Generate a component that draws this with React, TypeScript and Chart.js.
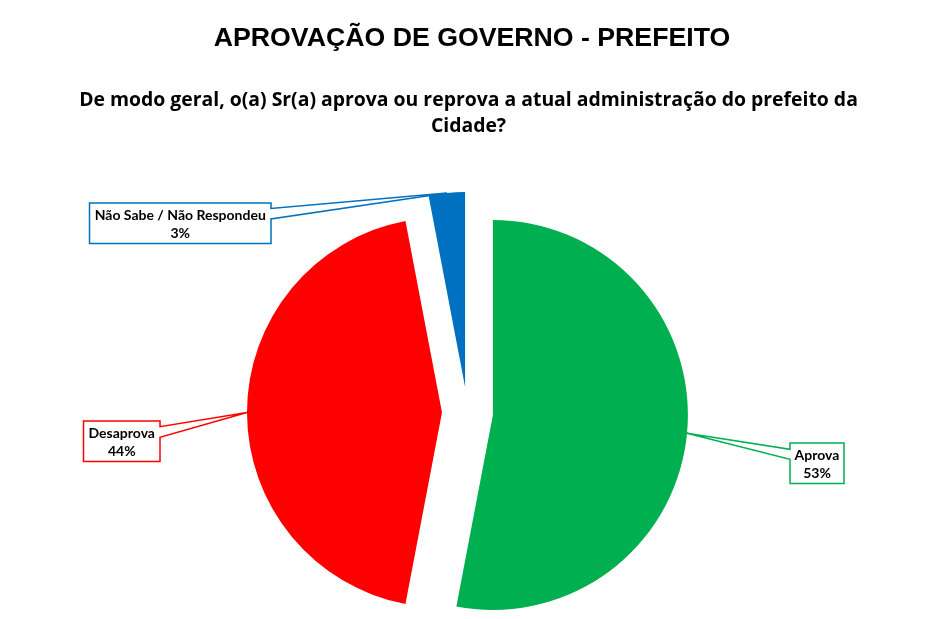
import { useEffect, useRef } from 'react';
import { Chart, registerables } from 'chart.js';

Chart.register(...registerables);

const categories = ['Aprova', 'Desaprova', 'Não Sabe / Não Respondeu'];
const values = [53, 44, 3];
const sliceColors = ['#00B050', '#FF0000', '#0070C0'];

const RADIUS = 195;
const EXPLODE = 25.5; // how far each slice is pulled out, in px

// callout boxes, same order as categories; y1/y2 = where the wedge leaves the box
const callouts = [
  { x: 790, y: 443, w: 54, h: 40.5, side: 'left', y1: 449.3, y2: 459.3 },
  { x: 83.5, y: 421, w: 76.5, h: 40.5, side: 'right', y1: 426.7, y2: 437.3 },
  { x: 89.5, y: 203, w: 181.5, h: 40.5, side: 'right', y1: 208.5, y2: 219 },
];

// chart.js' own arc offset also grows the radius, so pull the slices out here instead
const explodePlugin = {
  id: 'explode',
  beforeDatasetDraw(chart: Chart, args: any) {
    const ctx = chart.ctx;
    args.meta.data.forEach((arc: any) => {
      const mid = (arc.startAngle + arc.endAngle) / 2;
      ctx.save();
      ctx.translate(Math.cos(mid) * EXPLODE, Math.sin(mid) * EXPLODE);
      arc.draw(ctx);
      ctx.restore();
    });
    return false;
  },
};

const calloutPlugin = {
  id: 'callouts',
  afterDatasetsDraw(chart: Chart) {
    const ctx = chart.ctx;
    const arcs = chart.getDatasetMeta(0).data as any[];
    ctx.save();
    arcs.forEach((arc, i) => {
      const box = callouts[i];
      const mid = (arc.startAngle + arc.endAngle) / 2;
      const r = arc.outerRadius + EXPLODE;
      const tx = arc.x + Math.cos(mid) * r;
      const ty = arc.y + Math.sin(mid) * r;

      ctx.beginPath();
      if (box.side === 'right') {
        ctx.moveTo(box.x, box.y);
        ctx.lineTo(box.x + box.w, box.y);
        ctx.lineTo(box.x + box.w, box.y1);
        ctx.lineTo(tx, ty);
        ctx.lineTo(box.x + box.w, box.y2);
        ctx.lineTo(box.x + box.w, box.y + box.h);
        ctx.lineTo(box.x, box.y + box.h);
      } else {
        ctx.moveTo(box.x, box.y);
        ctx.lineTo(box.x + box.w, box.y);
        ctx.lineTo(box.x + box.w, box.y + box.h);
        ctx.lineTo(box.x, box.y + box.h);
        ctx.lineTo(box.x, box.y2);
        ctx.lineTo(tx, ty);
        ctx.lineTo(box.x, box.y1);
      }
      ctx.closePath();
      ctx.fillStyle = '#ffffff';
      ctx.fill();
      ctx.lineWidth = 1.5;
      ctx.lineJoin = 'miter';
      ctx.strokeStyle = sliceColors[i];
      ctx.stroke();

      ctx.fillStyle = '#000000';
      ctx.font = 'bold 14px Lato, "Open Sans", sans-serif';
      ctx.textAlign = 'center';
      ctx.textBaseline = 'alphabetic';
      const cx = box.x + box.w / 2;
      ctx.fillText(categories[i], cx, box.y + 16.5);
      ctx.fillText(`${values[i]}%`, cx, box.y + 34.5);
    });
    ctx.restore();
  },
};

export default function App() {
  const canvasRef = useRef<HTMLCanvasElement>(null);
  const chartInstance = useRef<Chart | null>(null);

  useEffect(() => {
    if (!canvasRef.current) return;
    const ctx = canvasRef.current.getContext('2d');
    if (!ctx) return;

    if (chartInstance.current) {
      chartInstance.current.destroy();
    }

    chartInstance.current = new Chart(ctx, {
      type: 'pie',
      data: {
        labels: categories,
        datasets: [
          {
            data: values,
            backgroundColor: sliceColors,
            borderWidth: 0,
            radius: RADIUS,
            clip: false,
          } as any,
        ],
      },
      options: {
        responsive: false,
        animation: false,
        events: [],
        layout: {
          padding: { left: 0, right: 5, top: 206, bottom: 0 },
        },
        plugins: {
          legend: { display: false },
          tooltip: { enabled: false },
          title: { display: false },
        },
      },
      plugins: [explodePlugin, calloutPlugin],
    });

    return () => {
      if (chartInstance.current) {
        chartInstance.current.destroy();
        chartInstance.current = null;
      }
    };
  }, []);

  return (
    <div
      style={{
        position: 'absolute',
        left: 0,
        top: 0,
        width: 940,
        height: 619,
        background: '#ffffff',
        overflow: 'hidden',
      }}
    >
      <canvas
        ref={canvasRef}
        width={940}
        height={619}
        style={{ position: 'absolute', left: 0, top: 0 }}
      />
      <div
        style={{
          position: 'absolute',
          top: 22,
          left: 0,
          width: 944,
          textAlign: 'center',
          font: 'bold 26.7px "Liberation Sans", Arial, sans-serif',
          lineHeight: '30px',
          color: '#000',
        }}
      >
        APROVAÇÃO DE GOVERNO - PREFEITO
      </div>
      <div
        style={{
          position: 'absolute',
          top: 86,
          left: 0,
          width: 937,
          textAlign: 'center',
          font: 'bold 19.4px "Open Sans", Lato, sans-serif',
          lineHeight: '26px',
          color: '#000',
        }}
      >
        De modo geral, o(a) Sr(a) aprova ou reprova a atual administração do prefeito da
        <br />
        Cidade?
      </div>
    </div>
  );
}
